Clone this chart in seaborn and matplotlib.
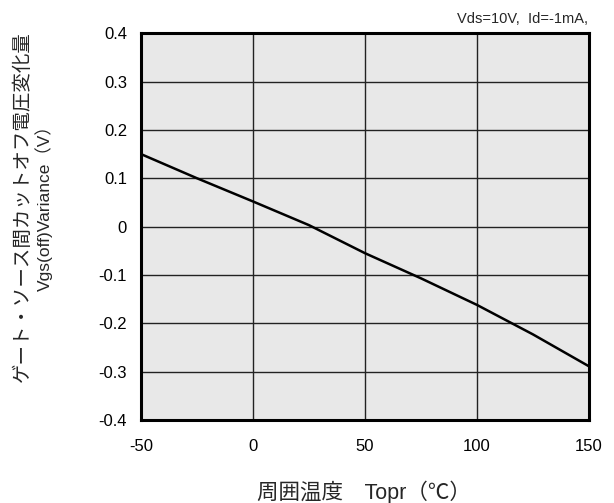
import matplotlib
matplotlib.use("Agg")
import matplotlib.pyplot as plt
import pandas as pd
import seaborn as sns

# Ambient temperature (°C) vs. Vgs(off) variance (V)
temperature = [-50, -25, 0, 25, 50, 75, 100, 125, 150]
vgs_variance = [0.150, 0.100, 0.052, 0.003, -0.055, -0.107, -0.162, -0.223, -0.289]

x_ticks = [-50, 0, 50, 100, 150]
y_ticks = [-0.4, -0.3, -0.2, -0.1, 0, 0.1, 0.2, 0.3, 0.4]
y_tick_labels = ["-0.4", "-0.3", "-0.2", "-0.1", "0", "0.1", "0.2", "0.3", "0.4"]

sns.set_style("white")
plt.rcParams["font.family"] = ["Liberation Sans", "Noto Sans CJK JP", "DejaVu Sans"]

df = pd.DataFrame({"Topr": temperature, "Variance": vgs_variance})

fig = plt.figure(figsize=(6.14, 5.03), dpi=100)
ax = fig.add_axes([0.2296, 0.165, 0.7297, 0.769])
ax.set_facecolor("#e8e8e8")

sns.lineplot(data=df, x="Topr", y="Variance", color="black", linewidth=1.8, ax=ax)

ax.set_xlim(-50, 150)
ax.set_ylim(-0.4, 0.4)
ax.set_xticks(x_ticks)
ax.set_xticklabels([str(t) for t in x_ticks])
ax.set_yticks(y_ticks)
ax.set_yticklabels(y_tick_labels)
ax.tick_params(length=0, labelsize=12, colors="black")
ax.tick_params(axis="x", pad=14)
ax.tick_params(axis="y", pad=10)
ax.grid(True, color="#222222", linewidth=1.0)
ax.set_axisbelow(True)
for spine in ax.spines.values():
    spine.set_color("black")
    spine.set_linewidth(2.2)

ax.set_xlabel("")
ax.set_ylabel("")
fig.text(0.592, 0.022, "周囲温度　Topr（℃）", ha="center", va="center", fontsize=15.5)
fig.text(0.037, 0.59, "ゲート・ソース間カットオフ電圧変化量", rotation=90,
         ha="center", va="center", fontsize=14)
fig.text(0.072, 0.595, "Vgs(off)Variance（V）", rotation=90,
         ha="center", va="center", fontsize=12.5)
fig.text(0.958, 0.962, "Vds=10V,  Id=-1mA,", ha="right", va="center", fontsize=10.5)

fig.savefig("out.png", dpi=100)
